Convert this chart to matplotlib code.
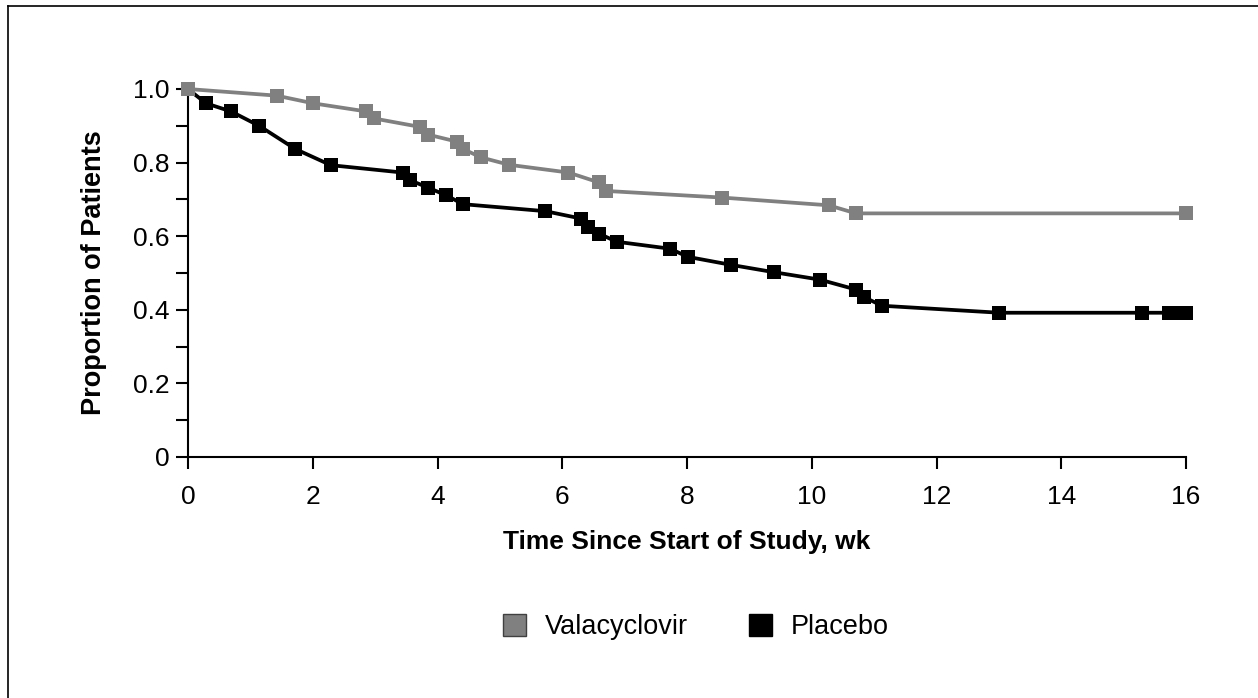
import matplotlib as mpl
import matplotlib.pyplot as plt
from matplotlib.lines import Line2D
from matplotlib.patches import Patch

mpl.use("Agg")
mpl.rcParams.update(
    {
        "font.family": "sans-serif",
        "font.sans-serif": ["Liberation Sans", "Arial", "DejaVu Sans"],
        "axes.linewidth": 1.5,
    }
)

# weeks since start of study, proportion of patients
val_weeks = [0, 1.42, 2.01, 2.86, 2.98, 3.72, 3.85, 4.31, 4.41, 4.70, 5.15,
             6.10, 6.59, 6.70, 8.56, 10.27, 10.71, 16.0]
val_prop = [1.0, 0.982, 0.961, 0.939, 0.920, 0.897, 0.876, 0.857, 0.837, 0.814,
            0.794, 0.773, 0.746, 0.723, 0.705, 0.684, 0.662, 0.662]

pla_weeks = [0, 0.29, 0.69, 1.14, 1.72, 2.29, 3.44, 3.56, 3.85, 4.14, 4.41,
             5.73, 6.30, 6.42, 6.59, 6.87, 7.73, 8.01, 8.71, 9.40, 10.13,
             10.71, 10.84, 11.13, 13.01, 15.29, 15.72, 15.86, 16.0]
pla_prop = [1.0, 0.961, 0.939, 0.900, 0.837, 0.793, 0.773, 0.752, 0.732, 0.711,
            0.687, 0.668, 0.648, 0.626, 0.607, 0.585, 0.566, 0.544, 0.522,
            0.502, 0.482, 0.455, 0.434, 0.411, 0.392, 0.392, 0.392, 0.392, 0.392]

x_ticks = [0, 2, 4, 6, 8, 10, 12, 14, 16]
y_ticks = [0, 0.2, 0.4, 0.6, 0.8, 1.0]
y_tick_labels = ["0", "0.2", "0.4", "0.6", "0.8", "1.0"]
y_minor = [0.1, 0.3, 0.5, 0.7, 0.9]

GRAY = "#808080"

fig = plt.figure(figsize=(12.58, 6.98), dpi=100)
ax = fig.add_axes([188 / 1258, 1 - 457 / 698, 998 / 1258, 368 / 698])

ax.plot(pla_weeks, pla_prop, color="black", lw=2.7, marker="s", ms=9.4,
        mew=0, clip_on=False, zorder=3)
ax.plot(val_weeks, val_prop, color=GRAY, lw=2.7, marker="s", ms=9.4,
        mew=0, clip_on=False, zorder=4)

ax.set_xlim(0, 16)
ax.set_ylim(0, 1.0)
ax.set_xticks(x_ticks)
ax.set_yticks(y_ticks)
ax.set_yticklabels(y_tick_labels)
ax.set_yticks(y_minor, minor=True)
ax.tick_params(axis="both", which="both", direction="out", length=8.5,
               width=1.5, labelsize=19, pad=4.5)
ax.tick_params(axis="x", pad=12)
for side in ("top", "right"):
    ax.spines[side].set_visible(False)

ax.set_xlabel("Time Since Start of Study, wk", fontsize=19, fontweight="bold",
              labelpad=15)
ax.set_ylabel("Proportion of Patients", fontsize=19.5, fontweight="bold",
              labelpad=19)

handles = [
    Patch(facecolor=GRAY, edgecolor="#404040", linewidth=1.0, label="Valacyclovir"),
    Patch(facecolor="black", edgecolor="black", linewidth=1.0, label="Placebo"),
]
fig.legend(handles=handles, loc="center", bbox_to_anchor=(0.553, 1 - 627 / 698),
           ncol=2, frameon=False, fontsize=19.5, handlelength=0.85,
           handleheight=0.85, handletextpad=0.7, columnspacing=2.25)

# partial outer frame (top and left edges only)
fig.add_artist(Line2D([8 / 1258, 8 / 1258], [0, 1 - 6 / 698], color="black",
                      lw=1.2, transform=fig.transFigure))
fig.add_artist(Line2D([8 / 1258, 1], [1 - 6 / 698, 1 - 6 / 698], color="black",
                      lw=1.2, transform=fig.transFigure))

fig.savefig("out.png", dpi=100)
